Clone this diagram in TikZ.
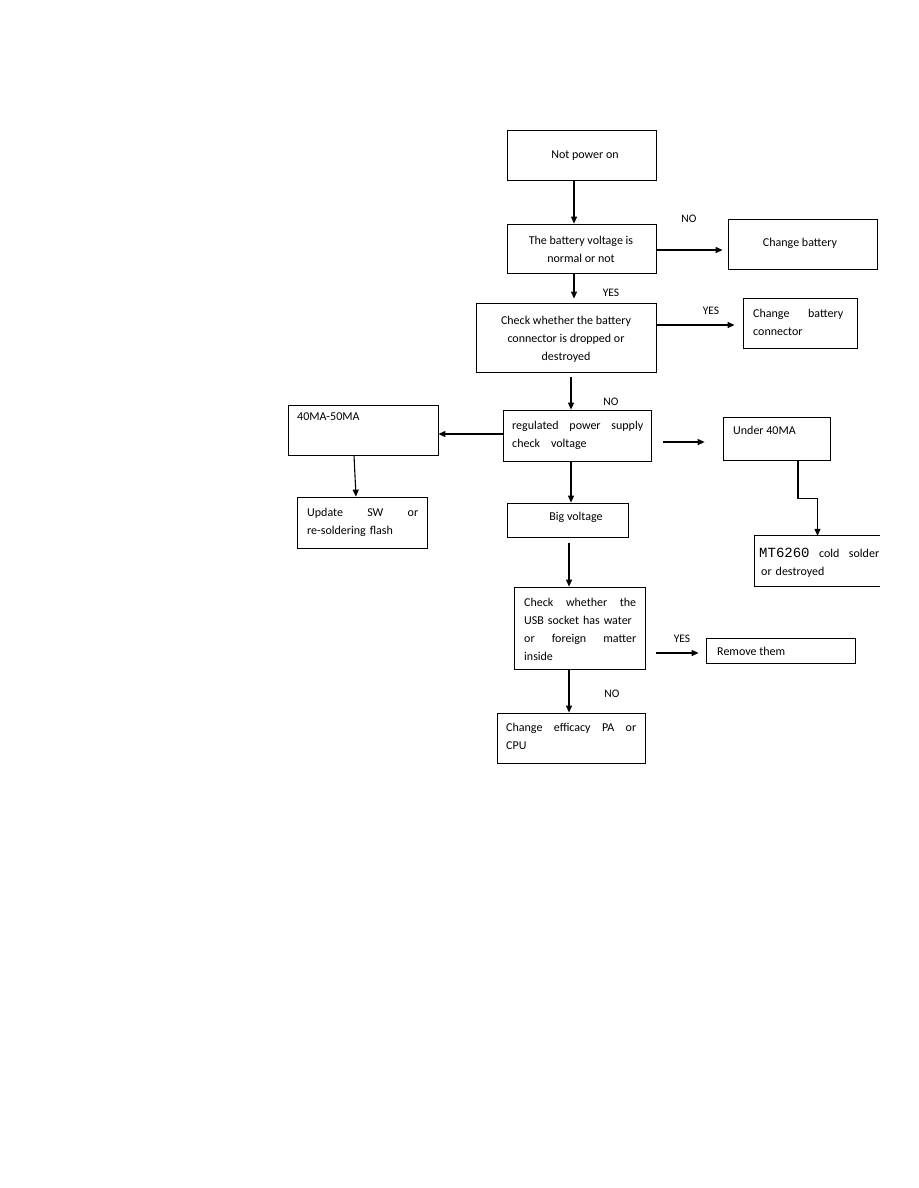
\documentclass[tikz,border=0pt]{standalone}
\usepackage{fontspec}
\setmainfont{Carlito}
\newfontfamily\mtfont{Liberation Mono}
\usetikzlibrary{arrows.meta}
\tikzset{
  box/.style={draw, line width=0.8pt, inner sep=0pt},
  txt/.style={inner sep=0pt, font=\fontsize{12}{18}\selectfont},
  mtxt/.style={txt, align=left},
  lbl/.style={inner sep=0pt, font=\fontsize{11.5}{13}\selectfont},
  arr/.style={line width=1.1pt, -{Triangle[length=7pt,width=6pt]}},
}
\newcommand{\fst}{\rule{0pt}{9pt}}
\begin{document}
\begin{tikzpicture}[x=1pt, y=-1pt]
\useasboundingbox (0,0) rectangle (918,1188);

% boxes
\node[box, minimum width=149pt, minimum height=50pt] (n1) at (581.5,155) {};
\node[box, minimum width=149pt, minimum height=49pt] (n2) at (581.5,248.5) {};
\node[box, minimum width=149pt, minimum height=50pt] (n3) at (802.5,244) {};
\node[box, minimum width=180pt, minimum height=69pt] (n4) at (566,337.5) {};
\node[box, minimum width=114pt, minimum height=50pt] (n5) at (800,323) {};
\node[box, minimum width=148pt, minimum height=51pt] (n6) at (577,435.5) {};
\node[box, minimum width=150pt, minimum height=50pt] (n7) at (363,430) {};
\node[box, minimum width=107pt, minimum height=43pt] (n8) at (776.5,438.5) {};
\node[box, minimum width=130pt, minimum height=51pt] (n9) at (362,522.5) {};
\node[box, minimum width=121pt, minimum height=34pt] (n10) at (567.5,520) {};
\node[inner sep=0pt, minimum width=125pt, minimum height=50pt] (n11) at (817.5,561) {};
\draw[line width=0.8pt] (n11.north east) -- (n11.north west) -- (n11.south west) -- (n11.south east);
\node[box, minimum width=131pt, minimum height=82pt] (n12) at (579.5,628) {};
\node[box, minimum width=149pt, minimum height=25pt] (n13) at (780.5,650.5) {};
\node[box, minimum width=148pt, minimum height=50pt] (n14) at (571,738) {};

% texts
\node[txt, anchor=mid] (t1) at (585,156) {Not power on};
\node[txt, anchor=north, align=center] (t2) at (581,235) {\fst The battery voltage is\\normal or not};
\node[txt, anchor=mid] (t3) at (800,244) {Change battery};
\node[txt, anchor=north, align=center] (t4) at (566,315) {\fst Check whether the battery\\connector is dropped or\\destroyed};
\node[mtxt, anchor=north west, text width=90pt] (t5) at (753,308) {\fst Change\hfill battery\\connector};
\node[mtxt, anchor=north west, text width=131pt] (t6) at (512,420) {\fst regulated\hfill power\hfill supply\\check\hspace{11pt}voltage};
\node[txt, anchor=mid west] (t7) at (297,418) {40MA-50MA};
\node[txt, anchor=mid west] (t8) at (733,432) {Under 40MA};
\node[mtxt, anchor=north west, text width=111pt] (t9) at (307,507) {\fst Update\hfill SW\hfill or\\re-soldering flash};
\node[txt, anchor=mid] (t10) at (576,518) {Big voltage};
\node[mtxt, anchor=north west, text width=120pt] (t11) at (759,547.5) {\fst{\mtfont\fontsize{14}{18}\selectfont MT6260}\hfill cold\hfill solder\\\hspace*{2pt}or destroyed};
\node[mtxt, anchor=north west, text width=112pt] (t12) at (524,597) {\fst Check\hfill whether\hfill the\\USB socket has water\\or\hfill foreign\hfill matter\\inside};
\node[txt, anchor=mid west] (t13) at (717,653) {Remove them};
\node[mtxt, anchor=north west, text width=130pt] (t14) at (506,722) {\fst Change\hfill efficacy\hfill PA\hfill or\\CPU};

% labels
\node[lbl] (l1) at (689,219) {NO};
\node[lbl] (l2) at (611,293) {YES};
\node[lbl] (l3) at (711,311) {YES};
\node[lbl] (l4) at (611,402) {NO};
\node[lbl] (l5) at (682,639) {YES};
\node[lbl] (l6) at (612,694) {NO};

% connectors
\draw[arr] ([xshift=-7.5pt]n1.south) -- ([xshift=-7.5pt]n2.north);
\draw[arr, shorten >=5pt] ([yshift=-1.5pt]n2.east) -- ([yshift=-6pt]n3.west);
\draw[arr, shorten >=4pt] ([xshift=-7.5pt]n2.south) -- ([xshift=8pt]n4.north);
\draw[arr, shorten >=8pt] ([yshift=12.5pt]n4.east) -- ([yshift=-2pt]n5.west);
\draw[arr, shorten <=5pt] ([xshift=5pt]n4.south) -- ([xshift=-6pt]n6.north);
\draw[arr] ([yshift=1.5pt]n6.west) -- ([yshift=-4pt]n7.east);
\draw[arr, shorten <=12pt, shorten >=18pt] ([yshift=-6.5pt]n6.east) -- ([yshift=-3.5pt]n8.west);
\draw[arr] ([xshift=-9pt]n7.south) -- ([xshift=-6pt]n9.north);
\draw[arr] ([xshift=-6pt]n6.south) -- ([xshift=3.5pt]n10.north);
\draw[arr] ([xshift=21.5pt]n8.south) -- ++(0,38) -| (n11.north);
\draw[arr, shorten <=6pt] ([xshift=1.5pt]n10.south) -- ([xshift=-10.5pt]n12.north);
\draw[arr, shorten <=11pt, shorten >=7pt] ([yshift=-25pt]n12.east) -- ([yshift=-2.5pt]n13.west);
\draw[arr] ([xshift=-10.5pt]n12.south) -- ([xshift=-2pt]n14.north);
\end{tikzpicture}
\end{document}
